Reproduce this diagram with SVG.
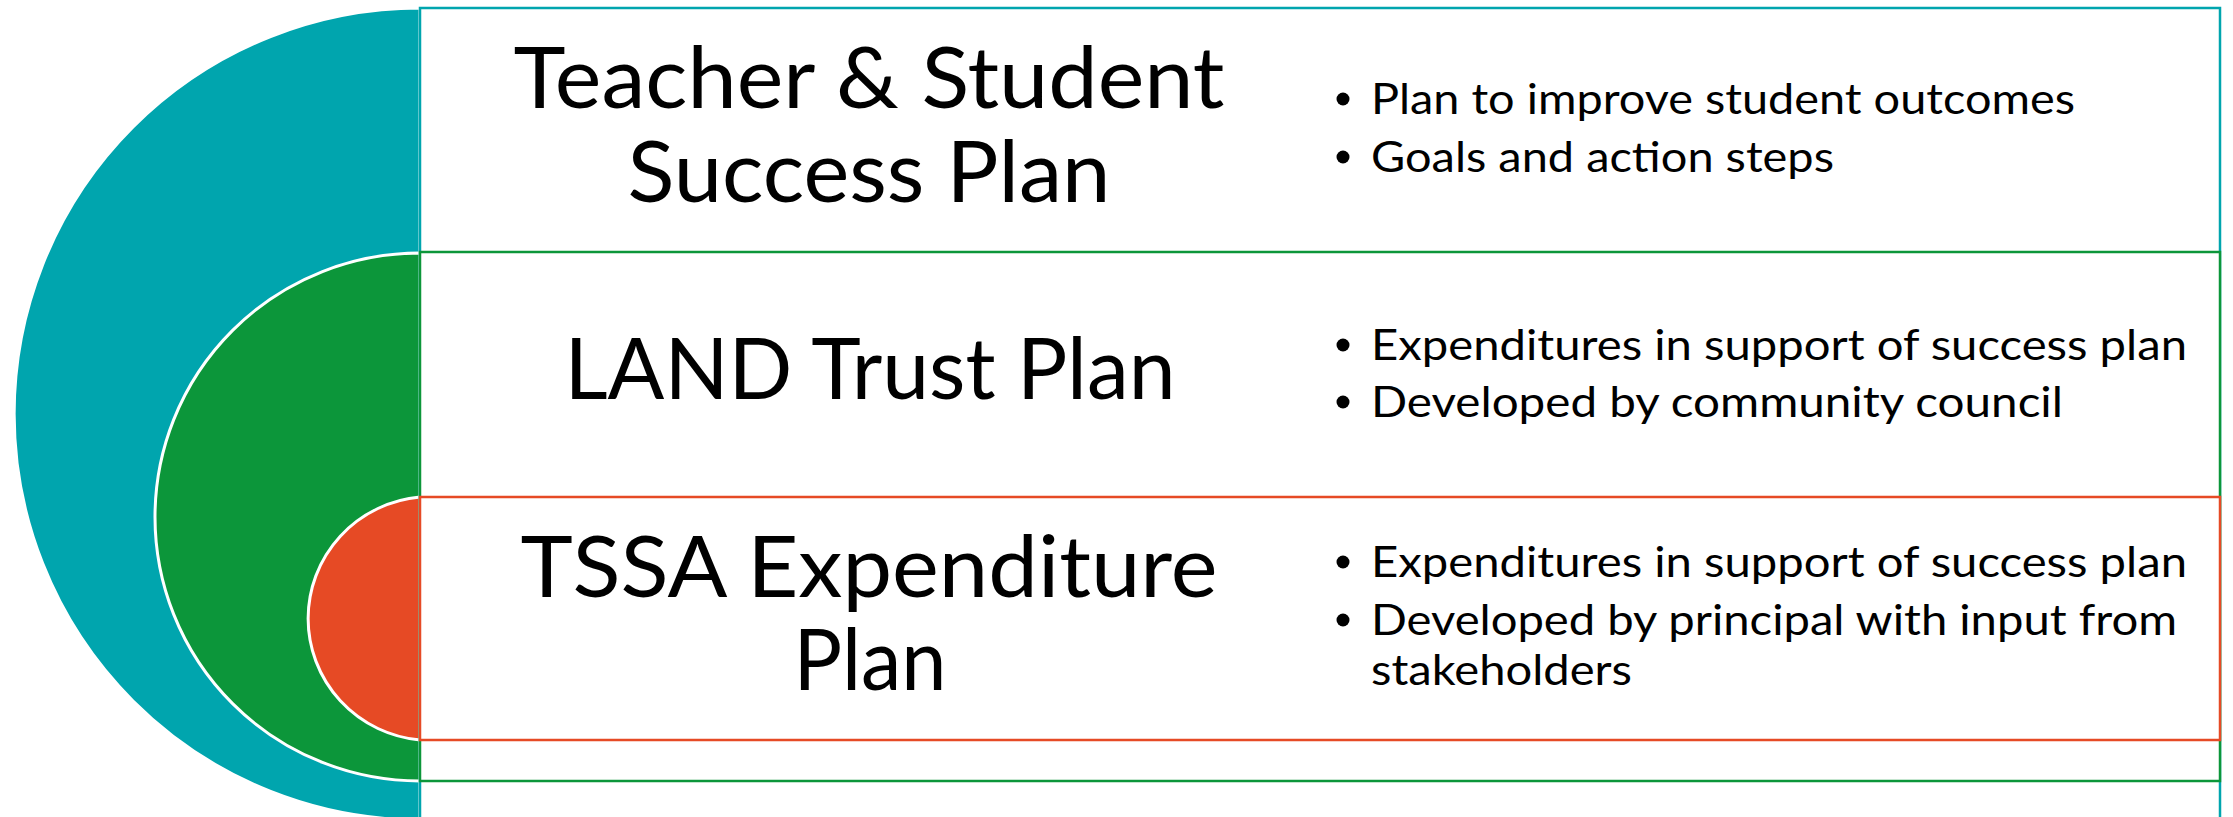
<svg xmlns="http://www.w3.org/2000/svg" width="2233" height="817" viewBox="0 0 2233 817">
<style>
.title{font-family:Lato,"Open Sans","Liberation Sans",sans-serif;font-weight:400;font-size:86px;fill:#000;text-anchor:middle}
.bul{font-family:Lato,"Open Sans","Liberation Sans",sans-serif;font-size:43px;fill:#000}
.dot{fill:#000}
.disc{stroke:#fff;stroke-width:3}
</style>
<rect width="2233" height="817" fill="#fff"/>
<g id="arcs">
<path class="disc" d="M420,8 A406,406 0 0 0 420,820 Z" fill="#00A5AE"/>
<path class="disc" d="M420,253 A265,264 0 0 0 420,781 Z" fill="#0C963A"/>
<path class="disc" d="M420,497 A123,122 0 0 0 420,740 Z" fill="#E64A25"/>
</g>
<g id="node-teacher">
<rect x="420" y="8" width="1800" height="830" fill="#fff" stroke="#00A5AE" stroke-width="2.5"/>
<text class="title" x="869" y="108" textLength="711" lengthAdjust="spacingAndGlyphs">Teacher &amp; Student</text>
<text class="title" x="869" y="202" textLength="483" lengthAdjust="spacingAndGlyphs">Success Plan</text>
<circle class="dot" cx="1343" cy="99" r="6.5"/>
<text class="bul" x="1371" y="114" textLength="704" lengthAdjust="spacingAndGlyphs">Plan to improve student outcomes</text>
<circle class="dot" cx="1343" cy="157" r="6.5"/>
<text class="bul" x="1371" y="172" textLength="463" lengthAdjust="spacingAndGlyphs">Goals and action steps</text>
</g>
<g id="node-land">
<rect x="420" y="252" width="1800" height="529" fill="#fff" stroke="#0C963A" stroke-width="2.5"/>
<text class="title" x="870" y="399" textLength="611" lengthAdjust="spacingAndGlyphs">LAND Trust Plan</text>
<circle class="dot" cx="1343" cy="345" r="6.5"/>
<text class="bul" x="1371" y="360" textLength="816" lengthAdjust="spacingAndGlyphs">Expenditures in support of success plan</text>
<circle class="dot" cx="1343" cy="402" r="6.5"/>
<text class="bul" x="1371" y="417" textLength="692" lengthAdjust="spacingAndGlyphs">Developed by community council</text>
</g>
<g id="node-tssa">
<rect x="420" y="497" width="1800" height="243" fill="#fff" stroke="#E64A25" stroke-width="2.5"/>
<text class="title" x="869" y="597" textLength="697" lengthAdjust="spacingAndGlyphs">TSSA Expenditure</text>
<text class="title" x="870" y="690" textLength="153" lengthAdjust="spacingAndGlyphs">Plan</text>
<circle class="dot" cx="1343" cy="562" r="6.5"/>
<text class="bul" x="1371" y="577" textLength="816" lengthAdjust="spacingAndGlyphs">Expenditures in support of success plan</text>
<circle class="dot" cx="1343" cy="620" r="6.5"/>
<text class="bul" x="1371" y="635" textLength="806" lengthAdjust="spacingAndGlyphs">Developed by principal with input from</text>
<text class="bul" x="1371" y="685" textLength="261" lengthAdjust="spacingAndGlyphs">stakeholders</text>
</g>
<g id="connectors"/>
</svg>
